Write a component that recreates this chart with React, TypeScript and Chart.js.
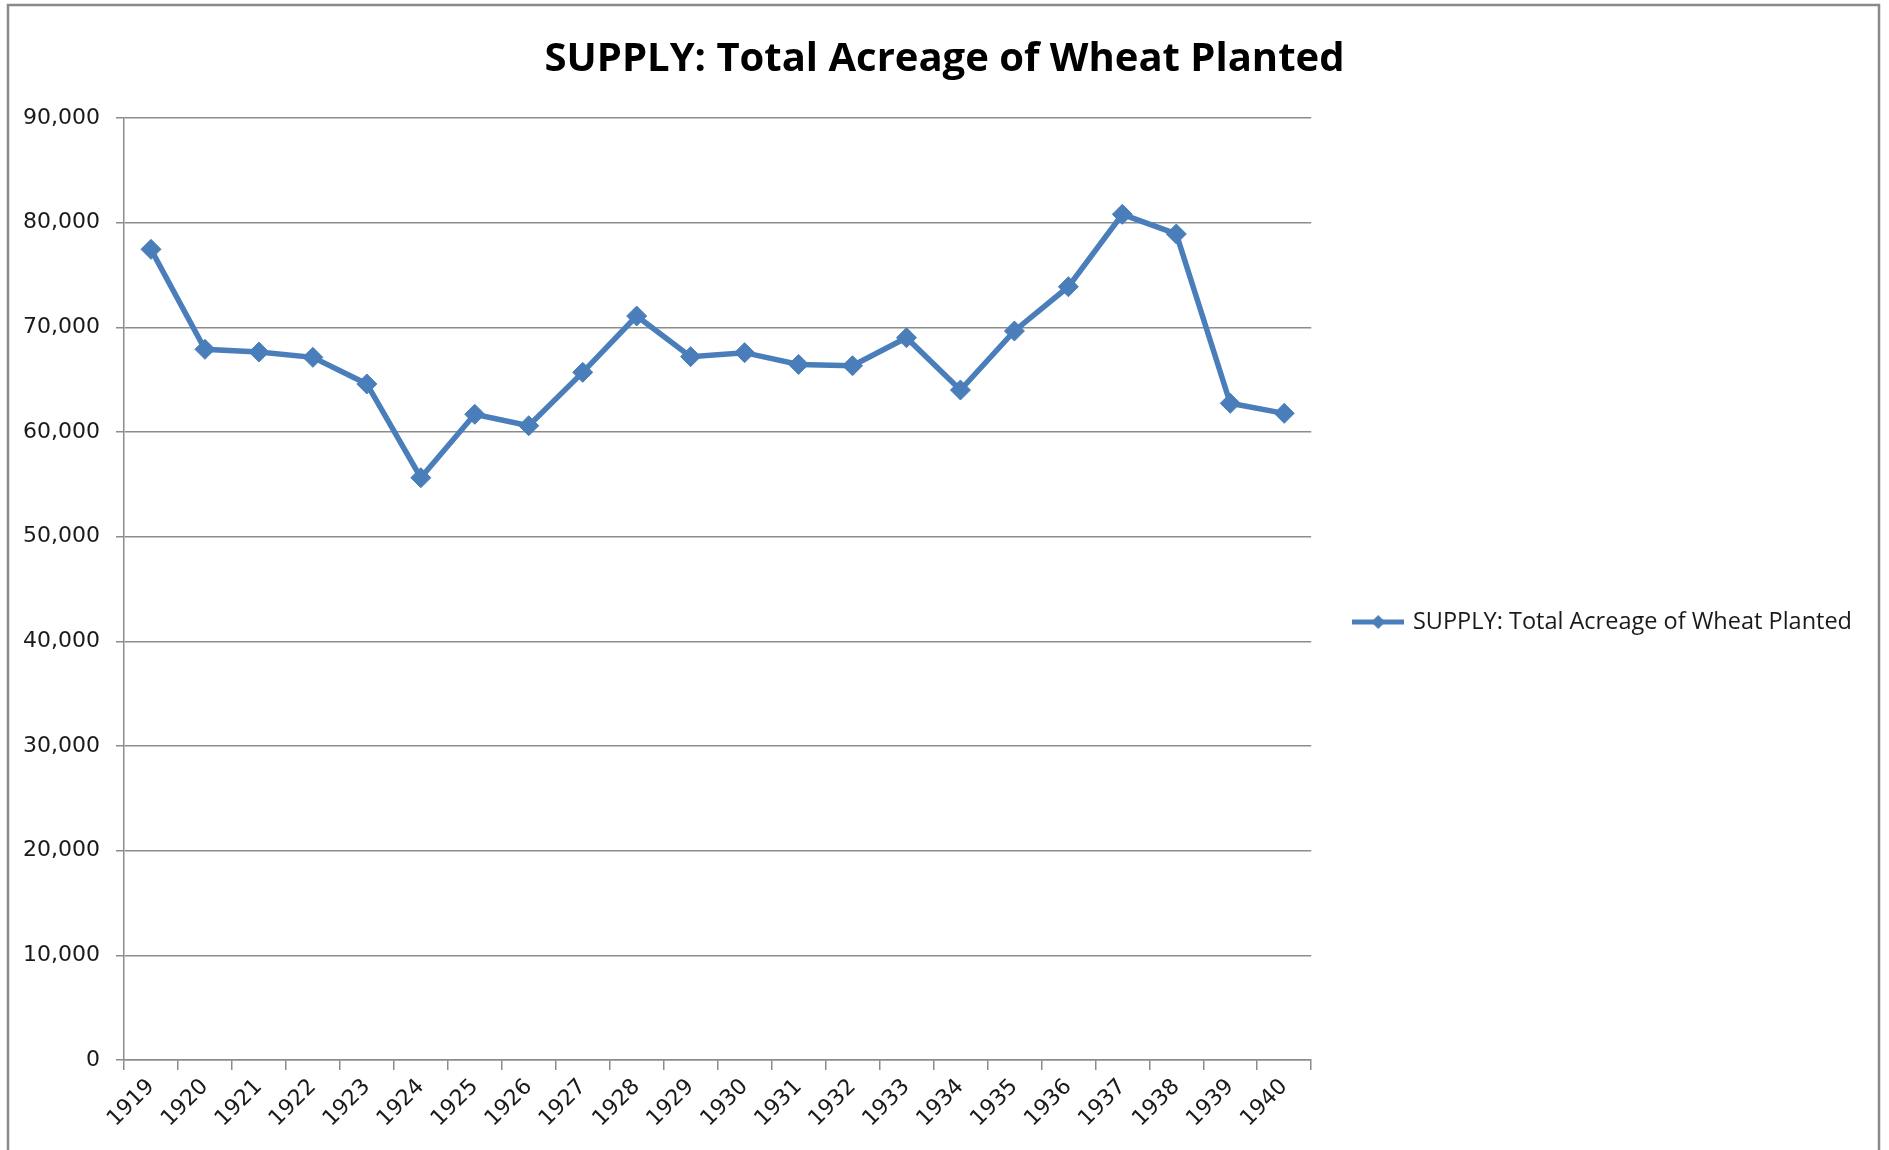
import React, { useEffect, useRef } from "react";
import { Chart, registerables } from "chart.js";

Chart.register(...registerables);

const chartTitle = "SUPPLY: Total Acreage of Wheat Planted";
const seriesName = "SUPPLY: Total Acreage of Wheat Planted";
const years = [
  "1919", "1920", "1921", "1922", "1923", "1924", "1925", "1926", "1927", "1928", "1929",
  "1930", "1931", "1932", "1933", "1934", "1935", "1936", "1937", "1938", "1939", "1940",
];
const acreage = [
  77450, 67900, 67640, 67130, 64590, 55630, 61690, 60600, 65700, 71080, 67200,
  67580, 66460, 66330, 69010, 64010, 69650, 73880, 80800, 78920, 62740, 61780,
];
const yMin = 0;
const yMax = 90000;
const yStep = 10000;

const BLUE = "#4a7ebb";
const GRID = "#8c8c8c";

function makeLegendMarker(): HTMLCanvasElement {
  const c = document.createElement("canvas");
  c.width = 52;
  c.height = 20;
  const ctx = c.getContext("2d")!;
  ctx.strokeStyle = BLUE;
  ctx.lineWidth = 5;
  ctx.beginPath();
  ctx.moveTo(0, 10);
  ctx.lineTo(52, 10);
  ctx.stroke();
  ctx.fillStyle = BLUE;
  ctx.beginPath();
  ctx.moveTo(26 - 7, 10);
  ctx.lineTo(26, 3);
  ctx.lineTo(26 + 7, 10);
  ctx.lineTo(26, 17);
  ctx.closePath();
  ctx.fill();
  return c;
}

const frame = {
  id: "frame",
  afterLayout(chart: any) {
    // center the title on the whole framed chart, as in the original
    if (chart.titleBlock) chart.titleBlock.left = 27;
  },
  beforeDraw(chart: any) {
    const ctx = chart.ctx;
    ctx.save();
    ctx.fillStyle = "#ffffff";
    ctx.fillRect(0, 0, chart.width, chart.height);
    ctx.strokeStyle = "#8a8a8a";
    ctx.lineWidth = 2.5;
    ctx.strokeRect(8, 5, 1871, 1200);
    ctx.restore();
  },
};

export default function App() {
  const ref = useRef<HTMLCanvasElement | null>(null);

  useEffect(() => {
    if (!ref.current) return;
    const chart = new Chart(ref.current, {
      type: "line",
      data: {
        labels: years,
        datasets: [
          {
            label: seriesName,
            data: acreage,
            borderColor: BLUE,
            backgroundColor: BLUE,
            borderWidth: 5.5,
            pointStyle: "rectRot",
            pointRadius: 10,
            pointHoverRadius: 10,
            pointBackgroundColor: BLUE,
            pointBorderColor: BLUE,
            pointBorderWidth: 1,
            tension: 0,
            clip: false as any,
          },
        ],
      },
      plugins: [frame],
      options: {
        responsive: false,
        animation: false,
        devicePixelRatio: 1,
        layout: { padding: { left: 0, right: 27, top: 0, bottom: 0 } },
        plugins: {
          title: {
            display: true,
            text: chartTitle,
            color: "#000000",
            font: { family: "'Open Sans', sans-serif", size: 40, weight: "bold" },
            padding: { top: 36, bottom: 34 },
          },
          legend: {
            display: true,
            position: "right",
            align: "center",
            maxWidth: 800,
            title: { display: true, text: "", font: { size: 10 }, padding: { top: 82, bottom: 0 } },
            labels: {
              usePointStyle: true,
              pointStyle: makeLegendMarker() as any,
              pointStyleWidth: 46,
              padding: 44,
              color: "#1a1a1a",
              font: { family: "'Open Sans', sans-serif", size: 23.5 },
            },
          },
          tooltip: { enabled: false },
        },
        scales: {
          x: {
            type: "category",
            offset: true,
            grid: {
              offset: true,
              drawOnChartArea: false,
              drawTicks: true,
              tickLength: 10,
              color: GRID,
              lineWidth: 1.5,
            },
            border: { display: true, color: GRID, width: 1.5 },
            ticks: {
              minRotation: 45,
              maxRotation: 45,
              autoSkip: false,
              color: "#1a1a1a",
              padding: 4,
              font: { family: "'DejaVu Sans', sans-serif", size: 22 },
            },
            afterFit(scale: any) {
              scale.height = 90;
            },
          },
          y: {
            min: yMin,
            max: yMax,
            grid: {
              color: GRID,
              lineWidth: 1.5,
              drawTicks: true,
              tickLength: 8,
            },
            border: { display: true, color: GRID, width: 1.5 },
            ticks: {
              stepSize: yStep,
              padding: 16,
              color: "#1a1a1a",
              font: { family: "'DejaVu Sans', sans-serif", size: 22 },
              callback: (v: any) => Number(v).toLocaleString("en-US"),
            },
            afterFit(scale: any) {
              scale.width = 124;
            },
          },
        },
      },
    });
    return () => chart.destroy();
  }, []);

  return (
    <div style={{ position: "absolute", left: 0, top: 0, width: 1889, height: 1150 }}>
      <canvas ref={ref} width={1889} height={1150} style={{ width: 1889, height: 1150, display: "block" }} />
    </div>
  );
}
